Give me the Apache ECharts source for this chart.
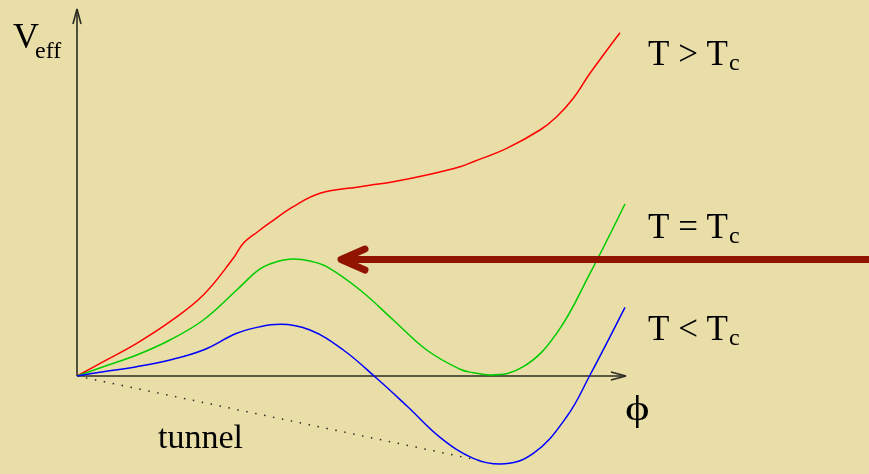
<!DOCTYPE html>
<html>
<head>
<meta charset="utf-8">
<script src="https://cdn.jsdelivr.net/npm/echarts@6/dist/echarts.min.js"></script>
<style>
  html, body { margin: 0; padding: 0; background: #e9dea8; }
  #chart { width: 869px; height: 474px; }
</style>
</head>
<body>
<div id="chart"></div>
<script>
// Effective potential V_eff(phi) at three temperatures
const redAbove = [ // T > Tc
  [0, 0], [0.288, 0.39], [0.654, 0.891], [1.018, 1.48], [1.383, 2.207],
  [1.711, 3.207], [1.821, 3.616], [1.982, 3.937], [2.113, 4.177],
  [2.368, 4.613], [2.661, 4.978], [3.099, 5.158], [3.463, 5.294],
  [3.829, 5.477], [4.194, 5.703], [4.339, 5.839], [4.705, 6.204],
  [5.069, 6.703], [5.252, 7.065], [5.434, 7.567], [5.617, 8.248], [5.945, 9.354]
];
const greenCritical = [ // T = Tc
  [0, 0], [0.288, 0.253], [0.654, 0.572], [1.018, 0.981], [1.383, 1.526],
  [1.749, 2.343], [2.004, 2.916], [2.187, 3.112], [2.368, 3.188],
  [2.551, 3.134], [2.734, 2.978], [3.099, 2.343], [3.463, 1.526], [3.829, 0.708],
  [4.194, 0.183], [4.339, 0.09], [4.522, 0.03], [4.887, 0.253],
  [5.252, 1.163], [5.617, 2.798], [6.0, 4.687]
];
const blueBelow = [ // T < Tc
  [0, 0], [0.288, 0.117], [0.654, 0.253], [1.018, 0.436], [1.383, 0.708],
  [1.749, 1.163], [2.004, 1.343], [2.223, 1.409], [2.551, 1.253],
  [2.916, 0.708], [3.281, -0.063], [3.624, -0.845], [3.975, -1.67],
  [4.339, -2.243], [4.632, -2.398], [4.996, -2.106], [5.362, -1.109],
  [5.617, 0.027], [6.0, 1.872]
];
const tunnelPath = [[0, 0], [4.434, -2.316]];

// Axes drawn as plain strokes with open arrowheads
const phiAxis = [[0, 0], [6.01, 0]];
const vAxis = [[0, 0], [0, 10]];
const phiArrowHead = [[5.846, 0.109], [6.01, 0], [5.846, -0.109]];
const vArrowHead = [[-0.044, 9.59], [0, 10], [0.044, 9.59]];

// Cooling arrow pointing at the T = Tc curve
const coolShaft = [[2.94, 3.174], [8.8, 3.174]];
const coolHead = [[3.153, 3.46], [2.891, 3.174], [3.153, 2.888]];

const chart = echarts.init(document.getElementById('chart'));

function strokeSeries(data, color, width, extra) {
  return Object.assign({
    type: 'line',
    data: data,
    symbol: 'none',
    clip: false,
    silent: true,
    animation: false,
    lineStyle: { color: color, width: width }
  }, extra || {});
}

const serif = '"Liberation Serif", "DejaVu Serif", serif';
function label(text, x, baseline, size, scaleX) {
  return {
    type: 'text',
    x: x,
    y: baseline - 0.33 * size,
    scaleX: scaleX || 1,
    silent: true,
    style: {
      text: text,
      fontSize: size,
      fontFamily: serif,
      fill: '#000',
      textAlign: 'left',
      textVerticalAlign: 'middle'
    }
  };
}

chart.setOption({
  backgroundColor: '#e9dea8',
  animation: false,
  // the plotting area spans the whole canvas; phi = 0, V = 0 sits at (77, 376)
  grid: { left: 0, right: 0, top: 0, bottom: 0 },
  xAxis: { type: 'value', min: -0.8431, max: 8.6717, show: false },
  yAxis: { type: 'value', min: -2.6703, max: 10.2452, show: false },
  series: [
    strokeSeries(phiAxis, '#2b2b22', 1.6),
    strokeSeries(vAxis, '#2b2b22', 1.6),
    strokeSeries(phiArrowHead, '#2b2b22', 1.6),
    strokeSeries(vArrowHead, '#2b2b22', 1.6),
    strokeSeries(tunnelPath, '#2b2b22', 1.5, {
      lineStyle: { color: '#2b2b22', width: 1.5, type: [1.5, 7.6], cap: 'butt' }
    }),
    strokeSeries(redAbove, '#ff0000', 1.5, { smooth: 0.4 }),
    strokeSeries(greenCritical, '#00cc00', 1.5, { smooth: 0.4 }),
    strokeSeries(blueBelow, '#0000ff', 1.5, { smooth: 0.4 }),
    strokeSeries(coolShaft, '#901400', 7, { z: 5 }),
    strokeSeries(coolHead, '#901400', 7, {
      z: 5,
      lineStyle: { color: '#901400', width: 7, cap: 'round', join: 'round' }
    })
  ],
  graphic: [
    label('V', 13, 50.7, 36),
    label('eff', 35, 60, 24),
    label('T > T', 648, 67.3, 35),
    label('c', 729, 71.5, 24),
    label('T = T', 648, 240, 35),
    label('c', 729, 244.3, 24),
    label('T < T', 648, 342.7, 35),
    label('c', 729, 346.7, 24),
    label('\u03d5', 625, 422, 36, 1.3),
    label('tunnel', 158, 450, 34)
  ]
});
</script>
</body>
</html>
